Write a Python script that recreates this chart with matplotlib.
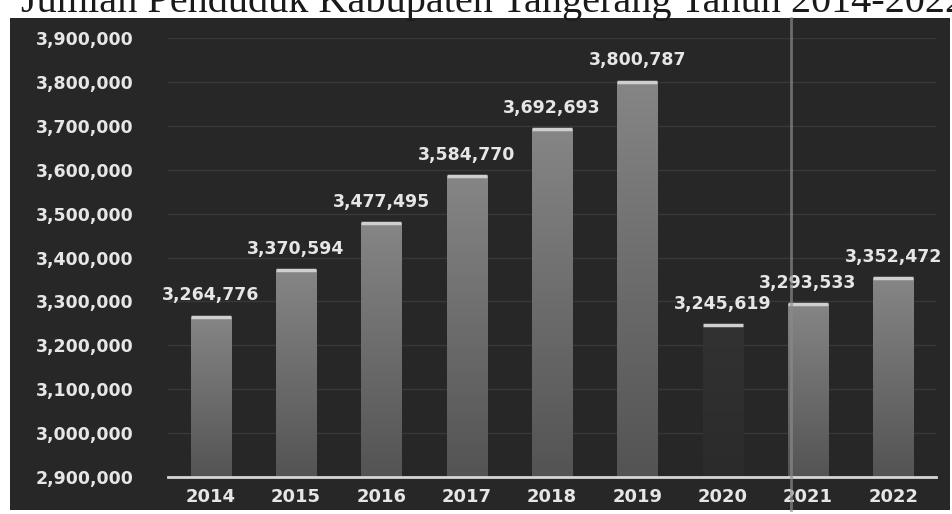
import numpy as np
import matplotlib.pyplot as plt
from matplotlib.patches import Rectangle
from matplotlib.colors import LinearSegmentedColormap
from matplotlib.ticker import FuncFormatter, MultipleLocator

# data
years = ['2014', '2015', '2016', '2017', '2018', '2019', '2020', '2021', '2022']
population = [3264776, 3370594, 3477495, 3584770, 3692693, 3800787, 3245619, 3293533, 3352472]
title = 'Jumlah Penduduk Kabupaten Tangerang Tahun 2014-2022'

bg = '#272727'
txt = '#e6e6e6'

fig = plt.figure(figsize=(9.53, 5.14), dpi=100)
fig.patch.set_facecolor('white')

# dark panel of the chart
fig.add_artist(Rectangle((10 / 953, 1 - 510 / 514), 940 / 953, 492 / 514,
                         transform=fig.transFigure, facecolor=bg, edgecolor='none', zorder=-5))

# title, top half cut off by the page edge
fig.text(0.022, 1 - 12 / 514, title, family='Liberation Serif', fontsize=29,
         color='#1a1a1a', va='baseline', ha='left')

ax = fig.add_axes([168 / 953, 1 - 477 / 514, 768 / 953, 439 / 514])
ax.set_facecolor('none')
ax.set_zorder(2)

ax.set_xlim(-0.5, 8.5)
ax.set_ylim(2900000, 3900000)

x = np.arange(len(years))
w = 0.47
bars = ax.bar(x, [p - 2900000 for p in population], bottom=2900000, width=w,
              color='none', edgecolor='none', zorder=2)

# grey gradient fill in each bar, the 2020 one is almost lost in the scan
grad = np.linspace(1, 0, 64).reshape(-1, 1)
cm_bar = LinearSegmentedColormap.from_list('bar', ['#545454', '#858585'])
cm_dim = LinearSegmentedColormap.from_list('dim', ['#2b2b2b', '#323232'])
for i, (b, p) in enumerate(zip(bars, population)):
    im = ax.imshow(grad, extent=[x[i] - w / 2, x[i] + w / 2, 2900000, p],
                   aspect='auto', cmap=cm_dim if years[i] == '2020' else cm_bar,
                   zorder=2, interpolation='bilinear')
    im.set_clip_path(b)

# bright top edge of every bar
ax.hlines(population, x - w / 2, x + w / 2, color='#cfcfcf', lw=2.5, zorder=3)

for xi, p in zip(x, population):
    ax.annotate(f'{p:,}', (xi, p), xytext=(0, 9), textcoords='offset points',
                ha='center', va='bottom', color=txt, fontsize=12.5, fontweight='bold')

ax.set_xlim(-0.5, 8.5)
ax.set_ylim(2900000, 3900000)
ax.yaxis.set_major_locator(MultipleLocator(100000))
ax.yaxis.set_major_formatter(FuncFormatter(lambda v, pos: f'{int(v):,}'))
ax.set_xticks(x)
ax.set_xticklabels(years)
ax.tick_params(axis='y', length=0, pad=25, colors=txt, labelsize=12.5)
ax.tick_params(axis='x', length=0, pad=8, colors=txt, labelsize=13)
for lab in ax.get_xticklabels() + ax.get_yticklabels():
    lab.set_fontweight('bold')

ax.grid(axis='y', color='#383838', lw=1, zorder=1)
ax.set_axisbelow(True)
for s in ['top', 'right', 'left']:
    ax.spines[s].set_visible(False)
ax.spines['bottom'].set_color('#d6d6d6')
ax.spines['bottom'].set_linewidth(2)
ax.spines['bottom'].set_zorder(4)

# light vertical streak from the scan
fig.add_artist(plt.Line2D([791 / 953, 791 / 953], [1 - 510 / 514, 1 - 18 / 514],
                          transform=fig.transFigure, color='#8a8a8a', lw=2, alpha=0.7, zorder=5))

plt.savefig('out.png', dpi=100)
